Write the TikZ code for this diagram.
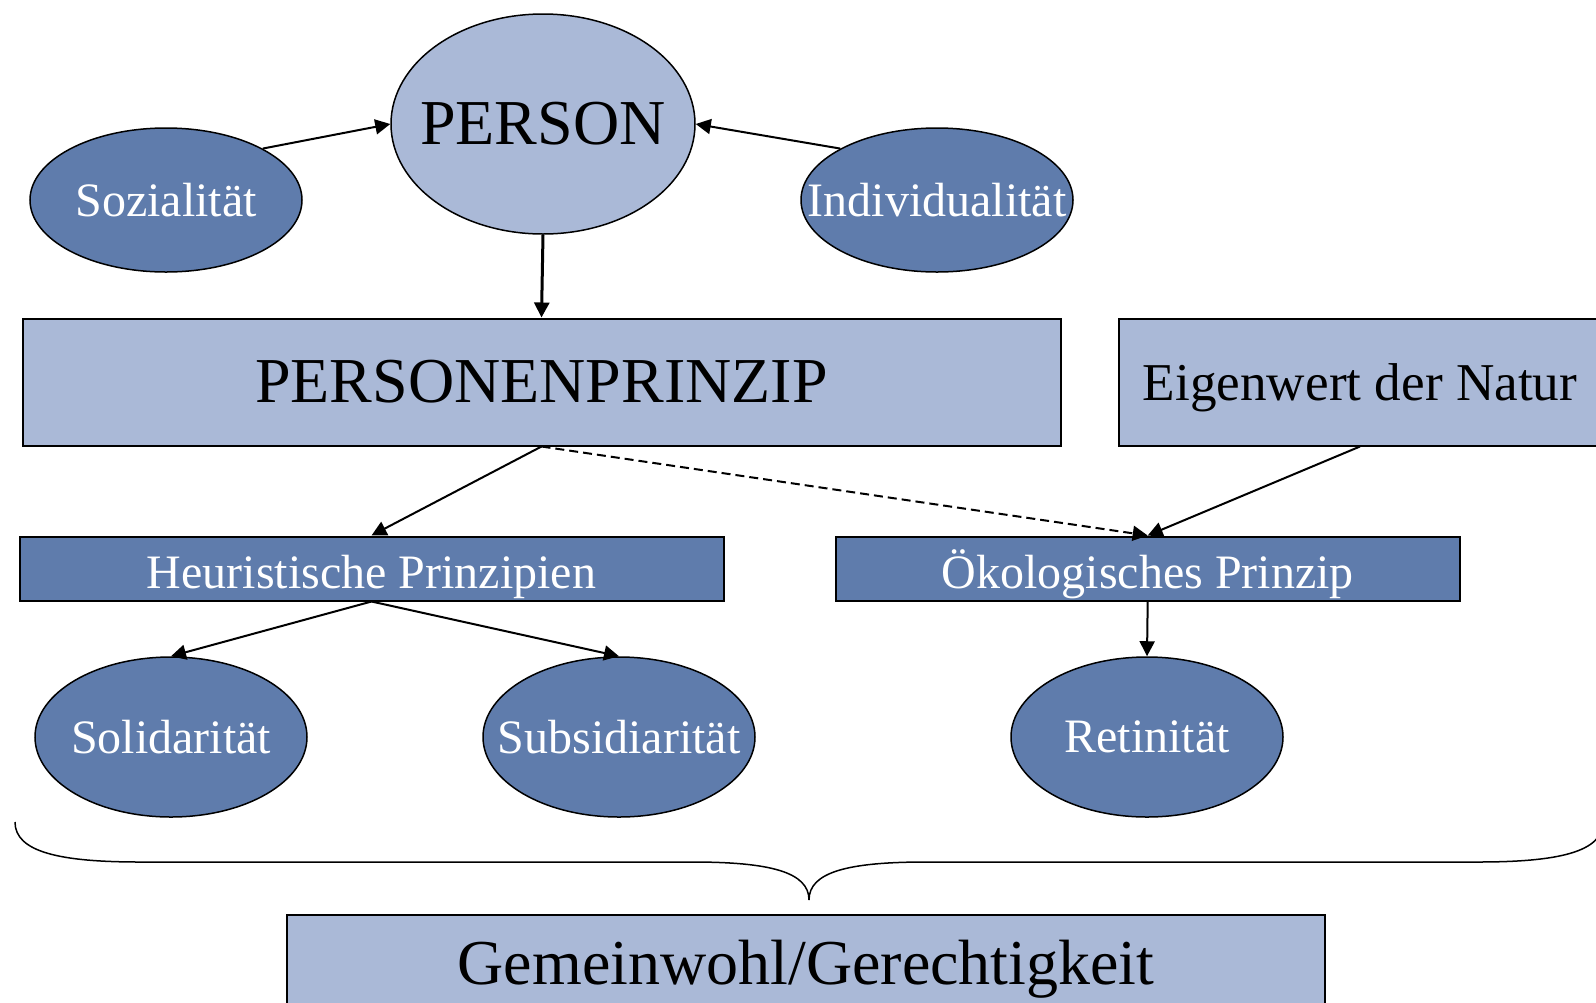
\documentclass[tikz,border=0pt]{standalone}
\usepackage{xcolor}
\usepackage{fontspec}
\setmainfont{Liberation Serif}
\usepackage{tikz}
\usetikzlibrary{positioning,shapes.geometric,arrows.meta}
\definecolor{lightblue}{RGB}{170,185,215}
\definecolor{darkblue}{RGB}{95,124,172}
% keep long labels from widening the ovals
\newcommand{\ovaltxt}[1]{\makebox[0pt]{#1}}
\tikzset{
  bigfont/.style={font=\fontsize{32}{38}\selectfont},
  midfont/.style={font=\fontsize{26.6}{32}\selectfont},
  smallfont/.style={font=\fontsize{24}{29}\selectfont},
  lightoval/.style={ellipse, draw, line width=0.75pt, fill=lightblue, inner sep=0pt, text=black},
  darkoval/.style={ellipse, draw, line width=0.75pt, fill=darkblue, inner sep=0pt, text=white, smallfont,
    minimum width=136pt},
  lightbox/.style={rectangle, draw, line width=1pt, fill=lightblue, inner sep=0pt, text=black},
  darkbox/.style={rectangle, draw, line width=1pt, fill=darkblue, inner sep=0pt, text=white, smallfont,
    minimum height=32pt, text height=20pt, text depth=0pt},
  link/.style={line width=1pt, -{Triangle[length=7.5pt,width=7.5pt]}}
}

\begin{document}
\begin{tikzpicture}[x=0.5pt, y=-0.5pt]

\useasboundingbox (0,0) rectangle (1596,1002);

% Top row: person and its two sides
\node[lightoval, bigfont, minimum width=152pt, minimum height=110pt] (person) at (543,124) {\ovaltxt{PERSON}};
\node[darkoval, minimum height=72pt] (soz) at (166,200) {\ovaltxt{Sozialität}};
\node[darkoval, minimum height=72pt] (indiv) at (937,200) {\ovaltxt{Individualität}};

% Principle boxes
\node[lightbox, bigfont, minimum width=519pt, minimum height=63.5pt] (pprinzip) at (541.5,382) {PERSONENPRINZIP};
\node[lightbox, midfont, text depth=0pt, minimum width=241.5pt, minimum height=63.5pt] (eigen) at (1360,382) {Eigenwert der Natur};
\node[darkbox, minimum width=352pt] (heur) at (371.5,568.5) {Heuristische Prinzipien};
\node[darkbox, minimum width=312pt] (oeko) at (1147.7,568.5) {Ökologisches Prinzip};

% Bottom row ovals
\node[darkoval, minimum height=80pt] (soli) at (171,737) {\ovaltxt{Solidarität}};
\node[darkoval, minimum height=80pt] (subs) at (619,737) {\ovaltxt{Subsidiarität}};
\node[darkoval, minimum height=80pt] (reti) at (1147,737) {\ovaltxt{Retinität}};

% Result box (runs off the bottom)
\node[lightbox, bigfont, minimum width=519pt, minimum height=54pt] (gemein) at (806,969) {Gemeinwohl/Gerechtigkeit};

% Arrows into person
\draw[link] (soz.28) -- (person.west);
\draw[link] (indiv.152) -- (person.east);
\draw[link, line width=1.5pt] (person.south) -- (pprinzip.north);

% Arrows from the principles
\draw[link] (pprinzip.south) -- (heur.north);
\draw[link, dash pattern=on 4.5pt off 2.5pt] (pprinzip.south) -- (oeko.north);
\draw[link] (eigen.south) -- (oeko.north);
\draw[link] (heur.south) -- (soli.north);
\draw[link] (heur.south) -- (subs.north);
\draw[link] (oeko.south) -- (reti.north);

% Curly brace over the lower part
\draw[line width=0.75pt] (15,822) .. controls (15,852) and (60,862) .. (140,862) -- (692,862)
  .. controls (770,862) and (809,872) .. (809,900)
  .. controls (809,872) and (848,862) .. (926,862) -- (1478,862)
  .. controls (1558,862) and (1603,852) .. (1603,822);

\end{tikzpicture}
\end{document}
